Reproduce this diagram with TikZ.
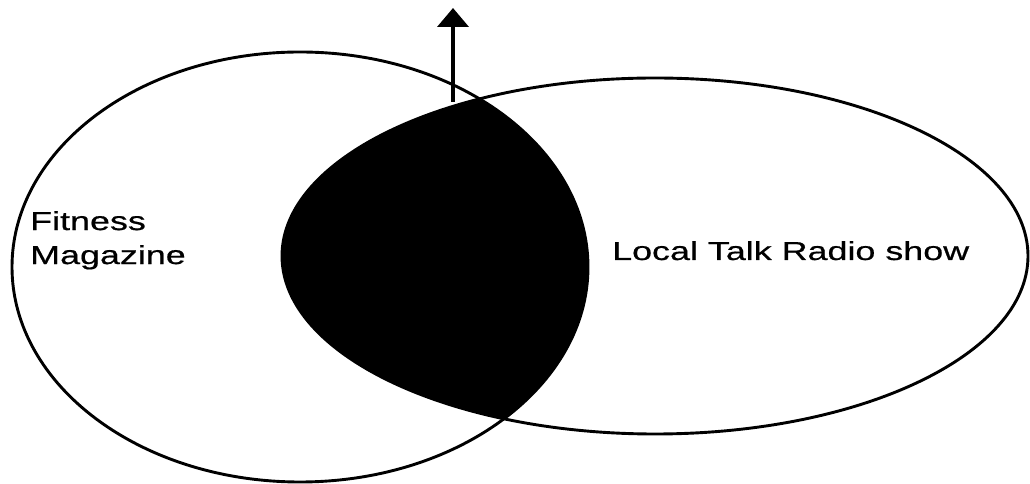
\documentclass[tikz,border=0pt]{standalone}
\usepackage{fontspec}
\setmainfont{Liberation Sans}
\newfontfamily\widesans[FakeStretch=1.38, FakeBold=0.6]{Liberation Sans}
\usetikzlibrary{arrows.meta}

\begin{document}
\begin{tikzpicture}[
    x=1pt, y=1pt,
    font=\widesans\fontsize{26}{34}\selectfont,
    venn/.style={draw=black, line width=2.9pt},
    lbl/.style={inner sep=0pt, align=left},
    up/.style={-{Triangle[width=31pt, length=19pt]}, line width=4pt},
]
\useasboundingbox (0,0) rectangle (1030,484);

%% ─── overlap, filled first so the outlines sit on top ───
\begin{scope}
  \clip (300,217) ellipse [x radius=288pt, y radius=215pt];
  \fill[black] (655,228) ellipse [x radius=373pt, y radius=178pt];
\end{scope}

%% ─── the two sets ───────────────────────────────────────
\draw[venn] (300,217) ellipse [x radius=288pt, y radius=215pt];
\draw[venn] (655,228) ellipse [x radius=373pt, y radius=178pt];

%% ─── labels ─────────────────────────────────────────────
\node[lbl, anchor=north west] (fit) at (30,273) {Fitness\\Magazine};
\node[lbl, anchor=base west] (radio) at (612,224) {Local Talk Radio show};

%% ─── arrow out of the overlap ───────────────────────────
\coordinate (peak) at (453,382);
\coordinate (tip) at (453,476);
\draw[up] (peak) -- (tip);

\end{tikzpicture}
\end{document}
